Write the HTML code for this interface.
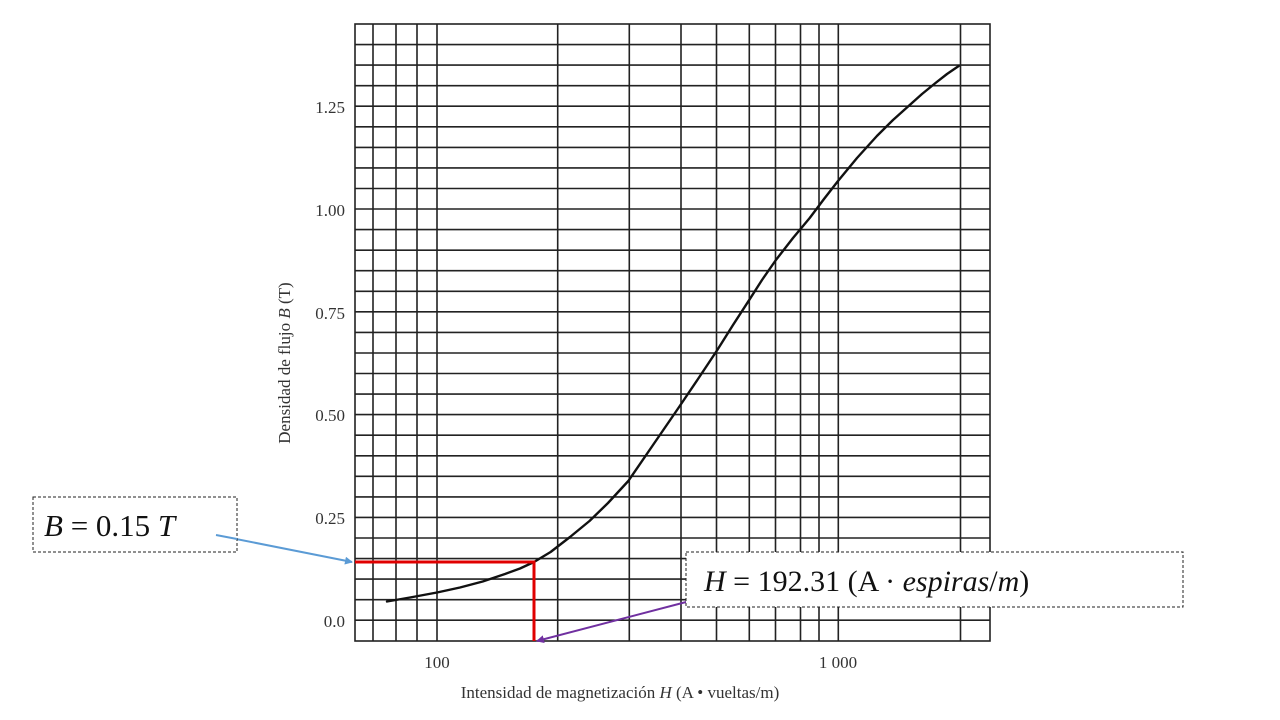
<!DOCTYPE html>
<html><head><meta charset="utf-8"><style>html,body{margin:0;padding:0;background:#fff}svg{display:block}</style></head>
<body>
<svg width="1280" height="720" viewBox="0 0 1280 720" xmlns="http://www.w3.org/2000/svg">
<defs>
<marker id="ab" markerWidth="8" markerHeight="8" refX="7" refY="4" orient="auto" markerUnits="userSpaceOnUse"><path d="M0,0 L8,4 L0,8 Z" fill="#5b9bd5"/></marker>
<marker id="ap" markerWidth="8" markerHeight="8" refX="7" refY="4" orient="auto" markerUnits="userSpaceOnUse"><path d="M0,0 L8,4 L0,8 Z" fill="#7030a0"/></marker>
</defs>
<g stroke="#222" stroke-width="1.6" fill="none">
<rect x="355" y="24" width="635" height="617"/>
<path d="M373,24V641M396,24V641M417,24V641M437,24V641M557.7,24V641M629.3,24V641M681,24V641M716.5,24V641M749.3,24V641M775.5,24V641M800.5,24V641M819,24V641M838.3,24V641M960.5,24V641"/>
<path d="M355,44.6H990M355,65.1H990M355,85.7H990M355,106.2H990M355,126.8H990M355,147.4H990M355,167.9H990M355,188.5H990M355,209H990M355,229.6H990M355,250.2H990M355,270.7H990M355,291.3H990M355,311.8H990M355,332.4H990M355,353H990M355,373.5H990M355,394.1H990M355,414.6H990M355,435.2H990M355,455.8H990M355,476.3H990M355,496.9H990M355,517.4H990M355,538H990M355,558.6H990M355,579.1H990M355,599.7H990M355,620.2H990"/>
</g>
<polyline fill="none" stroke="#111" stroke-width="2.4" stroke-linejoin="round" stroke-linecap="round" points="387,601.5 410,597.5 437,592.5 460,587.5 482.7,581.5 505,574 520,568.5 534,562 550.6,552 570,537 589.5,521 608,503 628.3,481 653,445 678.4,408 698,379 717.3,350 733,325 749,300.3 762,280 775.9,260 793,238 809.7,218 824,199 838,181 857,158 876.9,136 893,120 908.6,106 922,94 935.5,83 947,74 958.7,66"/>
<g font-family="Liberation Serif, serif" font-size="17" fill="#333" text-anchor="end">
<text x="345" y="113">1.25</text><text x="345" y="216">1.00</text><text x="345" y="319">0.75</text><text x="345" y="421">0.50</text><text x="345" y="524">0.25</text><text x="345" y="627">0.0</text>
</g>
<g font-family="Liberation Serif, serif" font-size="17" fill="#333" text-anchor="middle">
<text x="437" y="668">100</text><text x="838" y="668">1 000</text>
<text x="620" y="698">Intensidad de magnetización <tspan font-style="italic">H</tspan> (A • vueltas/m)</text>
<text transform="translate(290,363) rotate(-90)">Densidad de flujo <tspan font-style="italic">B</tspan> (T)</text>
</g>
<polyline points="355,562 534,562 534,641" fill="none" stroke="#e00000" stroke-width="3"/>
<line x1="216" y1="535" x2="352" y2="562" stroke="#5b9bd5" stroke-width="2" marker-end="url(#ab)"/>
<line x1="690" y1="601" x2="537" y2="641" stroke="#7030a0" stroke-width="2" marker-end="url(#ap)"/>
<rect x="33" y="497" width="204" height="55" fill="#fff" stroke="#222" stroke-dasharray="3,2"/>
<text x="44" y="536" font-family="Liberation Serif, serif" font-size="31" fill="#111"><tspan font-style="italic">B</tspan> = 0.15 <tspan font-style="italic">T</tspan></text>
<line x1="216" y1="535" x2="237" y2="539" stroke="#5b9bd5" stroke-width="2"/>
<rect x="686" y="552" width="497" height="55" fill="#fff" stroke="#222" stroke-dasharray="3,2"/>
<text x="704" y="591" font-family="Liberation Serif, serif" font-size="30" fill="#111"><tspan font-style="italic">H</tspan> = 192.31 (A · <tspan font-style="italic">espiras</tspan>/<tspan font-style="italic">m</tspan>)</text>
</svg>
</body></html>
